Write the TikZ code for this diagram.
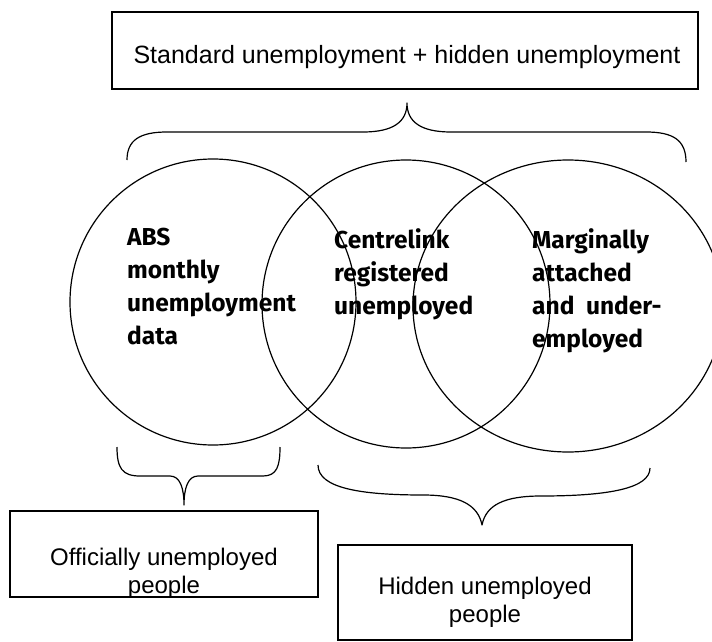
\documentclass[tikz,border=0pt]{standalone}
\usepackage{fontspec}
\setmainfont{Liberation Sans}
\newfontfamily\circfont{Fira Sans}
\tikzset{
  line/.style={line width=1.2pt, line join=round},
  boxnode/.style={draw, line width=1.2pt, rectangle, inner sep=0pt},
  boxtext/.style={align=center, font=\fontsize{25}{29}\selectfont},
  lowtext/.style={align=center, font=\fontsize{24}{28}\selectfont},
  circtext/.style={anchor=north west, align=left, inner sep=0pt, font=\circfont\bfseries\fontsize{24.5}{33}\selectfont},
}
\begin{document}
\begin{tikzpicture}[x=1pt, y=-1pt]
\useasboundingbox (0,0) rectangle (712,642);
% top box
\node[boxnode, minimum width=586pt, minimum height=77pt] (top) at (405,50.5) {};
\node[boxtext] (toptext) at (407,57) {Standard unemployment + hidden unemployment};
% top brace
\draw[line] (127,160) .. controls (127,140) and (140,132) .. (167,132) -- (363,132)
  .. controls (393,132) and (407,122) .. (407,103)
  .. controls (407,122) and (421,132) .. (451,132) -- (646,132)
  .. controls (673,132) and (686,140) .. (686,162);
% circles
\draw[line] (213,302) circle [radius=143];
\draw[line] (406,304) circle [radius=144];
\draw[line] (568,306) ellipse [x radius=155, y radius=146];
% circle texts
\node[circtext] (t1) at (127,228) {ABS\\monthly\\unemployment\\data};
\node[circtext] (t2) at (334,228) {Centrelink\\registered\\unemployed};
\node[circtext] (t3) at (532,228) {Marginally\\attached\\and\ \ under-\\employed};
% bottom-left brace
\draw[line] (117,447) .. controls (117,468) and (122,476) .. (140,476) -- (170,476)
  .. controls (180,476) and (184,488) .. (184,505)
  .. controls (184,488) and (188,476) .. (198,476) -- (263,476)
  .. controls (277,476) and (280,466) .. (280,447);
% hidden brace
\draw[line] (318,465) .. controls (318,488) and (360,495) .. (423,495)
  .. controls (460,495) and (478,505) .. (482,525)
  .. controls (486,505) and (504,496) .. (541,496)
  .. controls (610,496) and (650,488) .. (650,468);
% official box
\node[boxnode, minimum width=308pt, minimum height=86pt] (off) at (164,554) {};
\node[lowtext] (offtext) at (164,573) {Officially unemployed\\people};
% hidden box
\node[boxnode, minimum width=294pt, minimum height=95pt] (hid) at (485,592.5) {};
\node[lowtext] (hidtext) at (485,602) {Hidden unemployed\\people};
\end{tikzpicture}
\end{document}
